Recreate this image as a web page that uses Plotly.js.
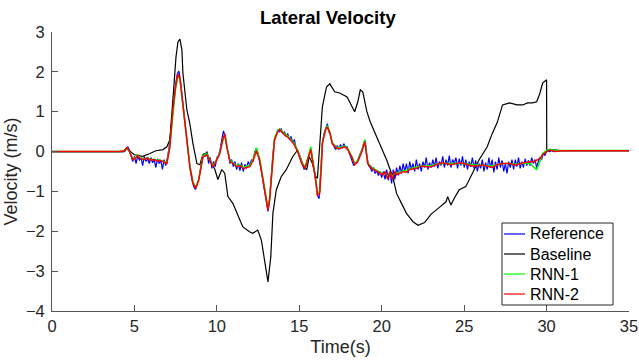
<!DOCTYPE html>
<html>
<head>
<meta charset="utf-8">
<script src="https://cdn.plot.ly/plotly-3.0.1.min.js"></script>
<style>html,body{margin:0;padding:0;background:#fff;}#chart{width:639px;height:360px;}</style>
</head>
<body>
<div id="chart"></div>
<script>
// ---- Data ----
var seriesNames = ['Reference', 'Baseline', 'RNN-1', 'RNN-2'];
var seriesColors = ['#0000ff', '#000000', '#00ff00', '#ff0000'];

// Reference (measured) lateral velocity, sampled every 0.1 s from 4.5 s to 30.5 s
var refStart = 4.5;
var refStep = 0.1;
var refVel = [
  0.05, 0.12, 0.02, -0.1, -0.25,
  -0.12, -0.3, -0.1, -0.22, -0.15, -0.35, -0.12, -0.25, -0.18, -0.3,
  -0.15, -0.28, -0.2, -0.4, -0.18, -0.3, -0.22, -0.45, -0.2, -0.35,
  -0.15, 0.1, 0.5, 0.95, 1.35, 1.7, 1.95, 2.02, 1.75, 1.3,
  0.95, 0.6, 0.22, -0.2, -0.5, -0.72, -0.88, -0.95, -0.85, -0.7,
  -0.45, -0.2, -0.05, -0.12, 0.0, -0.3, -0.15, -0.42, -0.25, -0.38,
  -0.15, -0.1, 0.05, 0.3, 0.52, 0.4, 0.15, -0.1, -0.3, -0.2,
  -0.38, -0.25, -0.45, -0.3, -0.48, -0.28, -0.5, -0.32, -0.42, -0.25,
  -0.35, -0.2, -0.25, 0.0, 0.08, -0.05, -0.25, -0.5, -0.75, -1.0,
  -1.3, -1.5, -1.2, -0.6, -0.05, 0.3, 0.42, 0.55, 0.5, 0.58,
  0.45, 0.5, 0.38, 0.45, 0.3, 0.38, 0.22, 0.3, 0.1, 0.02,
  -0.12, -0.25, -0.35, -0.45, -0.35, -0.2, -0.05, 0.08, -0.2, -0.45,
  -0.75, -1.1, -1.18, -0.5, 0.2, 0.45, 0.6, 0.7, 0.5, 0.4,
  0.22, 0.15, 0.05, 0.15, 0.05, 0.18, 0.08, 0.2, 0.1, 0.12,
  0.0, -0.1, -0.2, -0.35, -0.3, -0.28, -0.15, -0.05, 0.05, 0.2,
  0.28, -0.1, -0.35, -0.4, -0.5, -0.4, -0.55, -0.48, -0.6, -0.5,
  -0.65, -0.5, -0.7, -0.45, -0.72, -0.5, -0.8, -0.45, -0.7, -0.4,
  -0.6, -0.35, -0.55, -0.3, -0.5, -0.3, -0.55, -0.25, -0.45, -0.3,
  -0.5, -0.2, -0.45, -0.3, -0.5, -0.25, -0.4, -0.15, -0.45, -0.28,
  -0.4, -0.2, -0.38, -0.15, -0.42, -0.25, -0.35, -0.12, -0.4, -0.2,
  -0.35, -0.1, -0.4, -0.2, -0.3, -0.15, -0.42, -0.18, -0.35, -0.12,
  -0.4, -0.2, -0.45, -0.25, -0.38, -0.15, -0.42, -0.22, -0.5, -0.3,
  -0.42, -0.2, -0.5, -0.28, -0.45, -0.15, -0.4, -0.2, -0.52, -0.25,
  -0.45, -0.15, -0.4, -0.22, -0.5, -0.3, -0.55, -0.25, -0.4, -0.2,
  -0.45, -0.2, -0.38, -0.15, -0.42, -0.25, -0.4, -0.18, -0.35, -0.22,
  -0.35, -0.15, -0.3, -0.2, -0.4, -0.25, -0.15, -0.2, -0.05, -0.1,
  0.02, 0.05, 0.0, 0.03, 0.0, 0.02
];
var refHeadTime = [0, 4.4];
var refHeadVel = [0, 0];
var refTailTime = [30.6, 35];
var refTailVel = [0.02, 0.02];

// Baseline
var baseTime = [
  0, 4.3, 4.55, 4.75, 5.0, 5.5, 5.94, 6.3, 6.73, 6.97,
  7.15, 7.27, 7.39, 7.52, 7.64, 7.76, 7.88, 7.94, 8.18, 8.36,
  8.55, 8.79, 8.97, 9.15, 9.39, 9.58, 9.88, 10.06, 10.3, 10.48,
  10.67, 10.97, 11.27, 11.39, 11.58, 12.0, 12.18, 12.48, 12.7, 12.9,
  13.1, 13.27, 13.4, 13.6, 13.9, 14.2, 14.6, 14.9, 15.2, 15.45,
  15.6, 15.8, 16.0, 16.1, 16.24, 16.4, 16.65, 16.85, 17.15, 17.45,
  17.9, 18.36, 18.55, 18.7, 18.85, 19.1, 19.3, 19.58, 19.88, 20.3,
  20.67, 20.9, 21.2, 21.5, 21.9, 22.2, 22.6, 23.0, 23.5, 23.9,
  24.0, 24.2, 24.4, 24.7, 25.1, 25.5, 25.9, 26.4, 26.7, 27.0,
  27.27, 27.33, 27.76, 28.2, 28.55, 28.85, 29.15, 29.4, 29.6, 29.76,
  30.0, 30.01, 30.3, 31, 35
];
var baseVel = [
  0, 0, 0.1, 0, -0.08, -0.12, -0.05, 0.02, 0.05, 0.12,
  0.3, 0.87, 1.62, 2.37, 2.75, 2.82, 2.55, 1.97, 1.05, 0.7,
  0.2, -0.3, -0.33, -0.08, -0.03, -0.2, -0.45, -0.7, -0.45, -0.55,
  -1.13, -1.3, -1.63, -1.71, -1.89, -2.02, -2.05, -1.97, -2.22, -2.72,
  -3.27, -2.65, -1.55, -0.97, -0.63, -0.46, -0.13, 0.04, -0.3, -0.46,
  -0.13, -0.3, -0.63, -0.67, 0.12, 1.12, 1.62, 1.7, 1.5, 1.47,
  1.37, 1.0, 1.25, 1.55, 1.5, 1.0, 0.75, 0.47, 0.21, -0.21,
  -0.63, -1.05, -1.3, -1.55, -1.76, -1.85, -1.78, -1.57, -1.4, -1.26,
  -1.13, -1.34, -1.17, -0.96, -0.88, -0.55, -0.21, 0.12, 0.45, 0.72,
  1.05, 1.17, 1.22, 1.17, 1.17, 1.22, 1.22, 1.25, 1.47, 1.72,
  1.8, 0.0, 0.05, 0.02, 0.02
];

// RNN-1 and RNN-2 share one time base
var rnnTime = [
  0, 4.1, 4.4, 4.55, 4.7, 4.9, 5.1, 5.2, 5.33, 5.6,
  5.8, 5.94, 6.2, 6.4, 6.55, 6.8, 6.97, 7.15, 7.33, 7.5,
  7.64, 7.76, 7.94, 8.18, 8.36, 8.55, 8.72, 8.9, 9.15, 9.39,
  9.58, 9.76, 9.94, 10.18, 10.36, 10.48, 10.6, 10.8, 11.0, 11.2,
  11.4, 11.6, 11.8, 12.0, 12.2, 12.4, 12.6, 12.8, 13.0, 13.1,
  13.2, 13.33, 13.4, 13.5, 13.7, 13.8, 14.1, 14.4, 14.7, 14.9,
  15.15, 15.35, 15.5, 15.7, 15.8, 16.0, 16.1, 16.24, 16.35, 16.4,
  16.6, 16.7, 16.85, 17.0, 17.27, 17.45, 17.76, 17.94, 18.2, 18.36,
  18.55, 18.8, 18.97, 19.05, 19.15, 19.4, 19.7, 20.06, 20.2, 20.35,
  20.5, 20.65, 20.8, 20.9, 21.3, 21.5, 21.7, 22.1, 22.4, 22.7,
  23.0, 23.3, 23.6, 23.9, 24.2, 24.5, 24.8, 25.15, 25.45, 25.75,
  26.1, 26.4, 26.7, 27.0, 27.4, 27.76, 28.1, 28.4, 28.7, 29.0,
  29.2, 29.4, 29.6, 29.76, 30.0, 30.2, 30.5, 31, 35
];
var rnn1Vel = [
  0, 0, 0.02, 0.08, 0.0, -0.18, -0.14, -0.08, -0.15, -0.19,
  -0.15, -0.2, -0.19, -0.22, -0.21, -0.26, -0.28, 0.15, 1.0, 1.6,
  1.9, 1.82, 1.15, 0.35, -0.35, -0.75, -0.9, -0.7, -0.1, -0.05,
  -0.2, -0.35, -0.24, -0.03, 0.28, 0.42, 0.14, -0.22, -0.28, -0.35,
  -0.33, -0.4, -0.37, -0.35, -0.18, 0.1, -0.18, -0.68, -1.25, -1.4,
  -1.18, -0.5, 0.0, 0.35, 0.53, 0.57, 0.45, 0.35, 0.2, 0.03,
  -0.27, -0.38, -0.18, 0.12, -0.15, -0.68, -1.05, -1.0, -0.28, 0.22,
  0.58, 0.65, 0.5, 0.22, 0.1, 0.1, 0.14, 0.07, -0.13, -0.3,
  -0.22, 0.03, 0.3, 0.0, -0.28, -0.4, -0.48, -0.56, -0.52, -0.62,
  -0.52, -0.64, -0.52, -0.55, -0.48, -0.48, -0.43, -0.4, -0.36, -0.36,
  -0.35, -0.32, -0.3, -0.29, -0.3, -0.29, -0.3, -0.3, -0.33, -0.34,
  -0.34, -0.35, -0.36, -0.33, -0.3, -0.3, -0.32, -0.3, -0.3, -0.3,
  -0.38, -0.45, -0.25, -0.05, 0.03, 0.06, 0.03, 0.03, 0.03
];
var rnn2Vel = [
  0, 0, 0.02, 0.1, 0.0, -0.2, -0.15, -0.1, -0.17, -0.2,
  -0.16, -0.22, -0.2, -0.24, -0.22, -0.28, -0.3, 0.12, 1.05, 1.63,
  1.95, 1.85, 1.12, 0.3, -0.38, -0.8, -0.92, -0.72, -0.13, -0.08,
  -0.22, -0.38, -0.26, -0.05, 0.3, 0.45, 0.12, -0.25, -0.3, -0.38,
  -0.35, -0.43, -0.4, -0.38, -0.22, 0.02, -0.22, -0.72, -1.3, -1.47,
  -1.22, -0.55, -0.05, 0.3, 0.5, 0.55, 0.42, 0.33, 0.17, 0,
  -0.3, -0.42, -0.22, 0.05, -0.22, -0.72, -1.1, -1.05, -0.3, 0.2,
  0.55, 0.62, 0.47, 0.2, 0.08, 0.08, 0.12, 0.05, -0.15, -0.33,
  -0.25, 0, 0.25, -0.05, -0.3, -0.42, -0.5, -0.58, -0.5, -0.68,
  -0.5, -0.7, -0.5, -0.58, -0.5, -0.52, -0.45, -0.42, -0.36, -0.38,
  -0.38, -0.33, -0.28, -0.3, -0.33, -0.3, -0.28, -0.32, -0.36, -0.36,
  -0.34, -0.37, -0.4, -0.33, -0.3, -0.3, -0.34, -0.3, -0.27, -0.25,
  -0.26, -0.22, -0.17, -0.08, 0, 0.04, 0, 0.02, 0.02
];

var xTickVals = [0, 5, 10, 15, 20, 25, 30, 35];
var yTickVals = [-4, -3, -2, -1, 0, 1, 2, 3];

// ---- Build reference series time base ----
var refTime = [];
for (var i = 0; i < refVel.length; i++) refTime.push(+(refStart + i * refStep).toFixed(2));
var refX = refHeadTime.concat(refTime, refTailTime);
var refY = refHeadVel.concat(refVel, refTailVel);

var FONT = 'Liberation Sans, Arial, Helvetica, sans-serif';
var AX = '#262626';

var traces = [
  {x: refX, y: refY, name: seriesNames[0], type: 'scatter', mode: 'lines', line: {color: seriesColors[0], width: 1.2}},
  {x: baseTime, y: baseVel, name: seriesNames[1], type: 'scatter', mode: 'lines', line: {color: seriesColors[1], width: 1.2}},
  {x: rnnTime, y: rnn1Vel, name: seriesNames[2], type: 'scatter', mode: 'lines', line: {color: seriesColors[2], width: 1.5}},
  {x: rnnTime, y: rnn2Vel, name: seriesNames[3], type: 'scatter', mode: 'lines', line: {color: seriesColors[3], width: 1.5}}
];

// ---- Legend box (MATLAB style, compact), placed in paper coordinates ----
var legBox = {x0: 0.7799, x1: 0.9723, y0: 0.0215, y1: 0.3154};
var legRowY = [0.276, 0.2043, 0.1326, 0.0609];
var legLineX = [0.7834, 0.8198];
var legTextX = 0.8250;

var shapes = [{type: 'rect', xref: 'paper', yref: 'paper', x0: legBox.x0, x1: legBox.x1, y0: legBox.y0, y1: legBox.y1,
               fillcolor: '#ffffff', line: {color: AX, width: 1}, layer: 'above'}];
var annotations = [];
for (var k = 0; k < seriesNames.length; k++) {
  shapes.push({type: 'line', xref: 'paper', yref: 'paper', x0: legLineX[0], x1: legLineX[1], y0: legRowY[k], y1: legRowY[k],
               line: {color: seriesColors[k], width: 1.2}, layer: 'above'});
  annotations.push({xref: 'paper', yref: 'paper', x: legTextX, y: legRowY[k], xanchor: 'left', yanchor: 'middle',
                    text: seriesNames[k], showarrow: false, font: {family: FONT, size: 16, color: '#000'}});
}

var layout = {
  width: 639, height: 360,
  margin: {l: 52, r: 10, t: 32, b: 49, pad: 0},
  paper_bgcolor: '#fff', plot_bgcolor: '#fff',
  font: {family: FONT, size: 16, color: AX},
  title: {text: 'Lateral Velocity', font: {family: FONT, size: 18.5, color: '#000', weight: 'bold'},
          xref: 'container', x: 0.513, xanchor: 'center', yref: 'container', y: 0.95, yanchor: 'middle'},
  xaxis: {range: [0, 35], tickvals: xTickVals, ticks: 'inside', ticklen: 6, tickcolor: '#555', tickwidth: 1,
          showline: true, linecolor: '#555', linewidth: 1, mirror: false, showgrid: false, zeroline: false,
          tickfont: {family: FONT, size: 16.5, color: AX},
          title: {text: 'Time(s)', font: {family: FONT, size: 18, color: AX}, standoff: 6}},
  yaxis: {range: [-4, 3], tickvals: yTickVals, ticks: 'inside', ticklen: 6, tickcolor: '#555', tickwidth: 1,
          showline: true, linecolor: '#555', linewidth: 1, mirror: false, showgrid: false, zeroline: false,
          ticklabelstandoff: 3,
          tickfont: {family: FONT, size: 16.5, color: AX},
          title: {text: 'Velocity (m/s)', font: {family: FONT, size: 18, color: AX}, standoff: 3}},
  showlegend: false,
  shapes: shapes,
  annotations: annotations
};

Plotly.newPlot('chart', traces, layout, {displayModeBar: false, staticPlot: true});
</script>
</body>
</html>
